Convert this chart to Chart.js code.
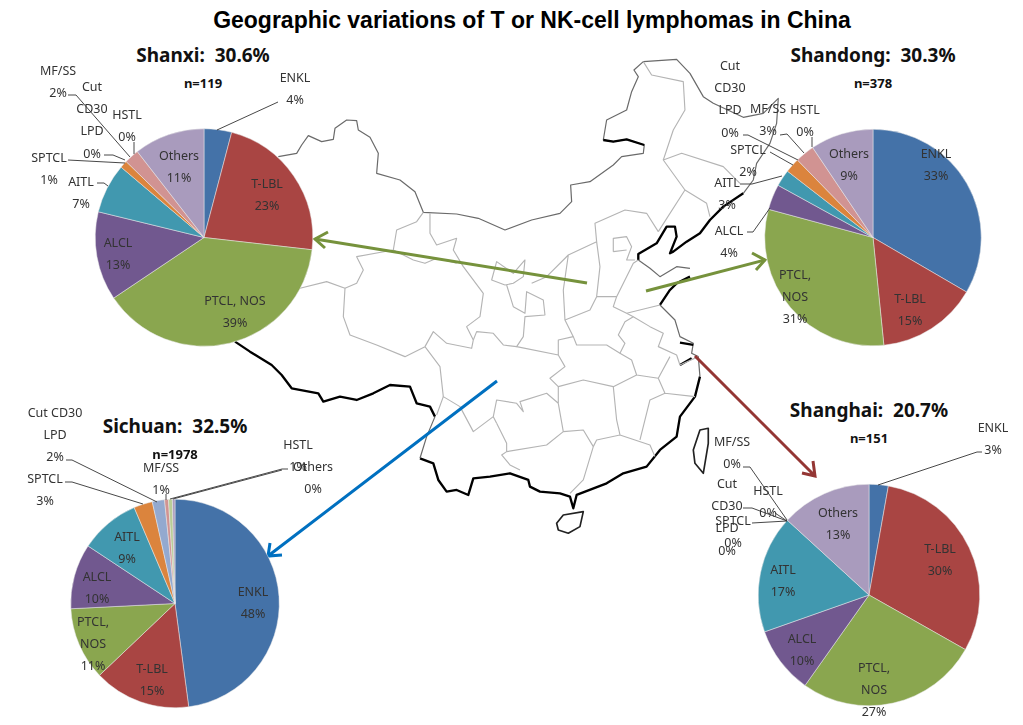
<!DOCTYPE html>
<html lang="en">

<head>
  <meta charset="UTF-8" />
  <title>Geographic variations of T or NK-cell lymphomas in China</title>
  <script src="https://cdn.jsdelivr.net/npm/chart.js"></script>
  <style>
    html, body { margin: 0; background: #fff; overflow: hidden; }
    #page { position: relative; width: 1023px; height: 725px; overflow: hidden; }
    #page svg, #page canvas { position: absolute; left: 0; top: 0; }
    .t { position: absolute; transform: translate(-50%, -50%); white-space: pre; color: #111; }
    #title { font: bold 23px "Liberation Sans", sans-serif; left: 532px; top: 20px; color: #000; }
    .head { font: bold 19px "Noto Sans", sans-serif; }
    .n { font: bold 13px "Noto Sans", sans-serif; }
    .prov { fill: none; stroke: #b4b4b4; stroke-width: 3.4; stroke-linejoin: round; }
    .north { fill: none; stroke: #6a6a6a; stroke-width: 3.6; stroke-linejoin: round; }
    .coast { fill: none; stroke: #000; stroke-width: 7; stroke-linejoin: round; }
    .isle { fill: none; stroke: #222; stroke-width: 5; stroke-linejoin: round; }
  </style>
</head>

<body>
  <div id="page">
    <!-- map is in the coordinates of the traced crop, hence the transform -->
    <svg width="1023" height="725">
      <g transform="translate(230,50) scale(0.3333)">
        <path class="north" d="M145,320 L200,310 215,285 235,257 275,275 310,268 315,235 350,210 380,212 385,240 420,262 445,310 440,370 510,390 555,425 580,487 680,492 745,505 825,540 905,510 990,490 1025,455 1022,405 1080,395 1150,345 1175,320 1240,310 1243,285 1190,268 1150,275 1120,270 1130,210 1190,180 1205,125 1225,80 1212,60 1240,35 1340,28 1380,70 1420,140 1450,160 1540,202 1600,190 1645,145 1640,220 1620,280 1580,340 1570,390 1540,430" />
        <path class="coast" d="M1120,270 L1150,275 1190,268 1243,285" />
        <path class="coast" d="M1540,430 L1480,470 1440,510 1410,550 1370,575 1330,605 1320,610 1340,560 1335,530 1310,530 1280,580 1225,612 1225,630" />
        <path class="north" d="M1225,630 L1260,655 1290,680 1340,650 1380,655" />
        <path class="coast" d="M1380,680 L1340,700 1320,720 1290,765" />
        <path class="north" d="M1290,765 L1335,810 1350,860 1390,880 1385,910 1405,920 1410,980" />
        <path class="coast" d="M1350,878 L1390,885 M1350,945 L1385,925" />
        <path class="coast" d="M1410,980 L1395,1040 1350,1100 1340,1160 1290,1200 1250,1250 1180,1270 1130,1300 1040,1335 1030,1375 1020,1340 990,1330 930,1325 900,1310 895,1290 840,1270 780,1280 730,1285 715,1335 680,1320 650,1325 625,1290 610,1240 570,1225" />
        <path class="coast" d="M15,875 L60,905 125,945 155,975 185,1015 265,1030 280,1055 330,1040 380,1050 430,1030 480,1005 540,1010 560,1060 600,1070 615,1100" />
        <path class="north" d="M615,1100 L590,1160 570,1225" />
        <path class="isle" d="M1390,1200 L1410,1140 1435,1135 1435,1180 1420,1270 1395,1240 Z" />
        <path class="isle" d="M980,1420 L1000,1395 1060,1385 1050,1430 1015,1450 985,1440 Z" />
        <path class="prov" d="M210,715 L290,695 345,715 340,800 360,855 440,885 525,920 585,890" />
        <path class="prov" d="M580,487 L560,515 500,540 490,600 380,620 400,660 380,700 345,715" />
        <path class="prov" d="M600,490 L600,550 620,585 680,565 670,600 700,650 760,730 750,800 710,830 730,870 725,895 650,880 610,845 585,890" />
        <path class="prov" d="M490,600 L550,630 585,640 620,625 680,640" />
        <path class="prov" d="M785,690 L800,635 850,670 885,630 880,680 850,700 825,705 Z" />
        <path class="prov" d="M830,705 L850,770 885,790 890,725 940,750 945,795 885,800 880,860 860,890 820,885 790,850 740,845 730,870" />
        <path class="prov" d="M905,700 L950,680 1015,615 1000,720 1005,810 1030,860 985,870 985,915 860,890" />
        <path class="prov" d="M1015,615 L1100,575 1110,650 1100,740 1080,780 1005,810" />
        <path class="prov" d="M1100,575 L1095,520 1185,480 1250,490 1285,545" />
        <path class="prov" d="M1100,740 L1160,740 1210,640 1225,630" />
        <path class="prov" d="M1150,605 L1150,565 1190,560 1205,590 1190,630 1215,630 M1150,605 L1190,600" />
        <path class="prov" d="M1160,740 L1150,770 1190,790 1290,765" />
        <path class="prov" d="M1030,860 L1040,885 1130,885 1170,910 1185,880 1165,855 1185,815 1210,800 1190,790" />
        <path class="prov" d="M1210,800 L1260,830 1300,850 1285,890 1340,915 1350,945 1405,920" />
        <path class="prov" d="M1170,910 L1205,930 1220,975 1285,985 1320,920" />
        <path class="prov" d="M985,915 L1005,950 960,985 985,1010 1060,990 1150,1010 1220,975" />
        <path class="prov" d="M985,1010 L985,1060 950,1030 870,1055 880,1085 860,1060 800,1050 790,1100 730,1145 690,1070 640,1040 620,1095" />
        <path class="prov" d="M585,890 L630,950 640,1040" />
        <path class="prov" d="M985,1060 L1000,1145 950,1185 830,1205 815,1215 840,1245 870,1260 M800,1120 L830,1180 830,1205" />
        <path class="prov" d="M790,1100 L800,1120 M1000,1145 L1060,1140 1090,1190 1060,1290 1020,1330" />
        <path class="prov" d="M1150,1010 L1160,1110 1170,1155 1100,1170 1090,1190 M1170,1155 L1260,1185 1275,1220" />
        <path class="prov" d="M1285,985 L1305,1030 1260,1050 1230,1170 M1305,1030 L1395,1040" />
        <path class="prov" d="M1285,545 L1365,420 1430,460 1440,500 M1365,420 L1300,330 1355,310 1480,350 1530,400" />
        <path class="prov" d="M1300,330 L1330,240 1365,180 1360,95 1265,75 1240,35" />
      </g>
      <g fill="none" stroke-width="3" stroke-linejoin="miter">
        <g stroke="#76923c">
          <path d="M587,283 L315,239" />
          <path d="M328,232 L315,239 325,248" />
          <path d="M646,291 L765,260" />
          <path d="M752,253 L765,260 756,270" />
        </g>
        <path stroke="#0070c0" d="M497,381 L268,556 M270,543 L268,556 282,555" />
        <path stroke="#943634" d="M695,356 L815,476 M802,473 L815,476 813,461" />
      </g>
    </svg>

    <div class="t" id="title">Geographic variations of T or NK-cell lymphomas in China</div>
    <div class="t head" style="left:203px;top:55px">Shanxi:  30.6%</div>
    <div class="t n" style="left:203px;top:83px">n=119</div>
    <div class="t head" style="left:873px;top:55px">Shandong:  30.3%</div>
    <div class="t n" style="left:873px;top:83px">n=378</div>
    <div class="t head" style="left:175px;top:426px">Sichuan:  32.5%</div>
    <div class="t head" style="left:869px;top:410px">Shanghai:  20.7%</div>
    <div class="t n" style="left:869px;top:438px">n=151</div>

    <canvas id="shanxiChart" width="1023" height="725"></canvas>
    <canvas id="shandongChart" width="1023" height="725"></canvas>
    <canvas id="sichuanChart" width="1023" height="725"></canvas>
    <canvas id="shanghaiChart" width="1023" height="725"></canvas>
    <div class="t n" style="left:175px;top:454px">n=1978</div>
  </div>

  <script>
    // percentages, printed labels are these rounded
    const shanxiValues = [4.1, 22.7, 38.8, 13.2, 7.4, 1.1, 0, 2.2, 0, 10.5];
    const shandongValues = [33.4, 15, 30.8, 3.8, 2.5, 2.2, 0, 2.9, 0, 9.4];
    const sichuanValues = [47.9, 15, 11.3, 10.1, 9.3, 2.9, 1.9, 0.6, 0.6, 0.4];
    const shanghaiValues = [2.8, 30.4, 26.6, 9.8, 17.2, 0, 0, 0, 0, 13.2];

    const shanxiNames = ['ENKL', 'T-LBL', 'PTCL, NOS', 'ALCL', 'AITL', 'SPTCL', 'Cut|CD30|LPD', 'MF/SS', 'HSTL', 'Others'];
    const shandongNames = ['ENKL', 'T-LBL', 'PTCL,|NOS', 'ALCL', 'AITL', 'SPTCL', 'Cut|CD30|LPD', 'MF/SS', 'HSTL', 'Others'];
    const sichuanNames = ['ENKL', 'T-LBL', 'PTCL,|NOS', 'ALCL', 'AITL', 'SPTCL', 'Cut CD30|LPD', 'MF/SS', 'HSTL', 'Others'];
    const shanghaiNames = ['ENKL', 'T-LBL', 'PTCL,|NOS', 'ALCL', 'AITL', 'SPTCL', 'Cut|CD30|LPD', 'MF/SS', 'HSTL', 'Others'];

    const sliceColors = ['#4472a8', '#a94543', '#8aa64f', '#71588f', '#4198af', '#db843d', '#93a9cf', '#d19392', '#b9cd96', '#a99bbd'];

    // page position of each label's first line, same order as the names
    const shanxiLabelAt = [[295, 78], [267, 184], [235, 301], [118, 243], [81, 182], [49, 158], [92, 87], [58, 71], [127, 115], [179, 156]];
    const shandongLabelAt = [[936, 154], [910, 299], [795, 275], [729, 231], [727, 183], [748, 150], [730, 66], [768, 109], [805, 110], [849, 154]];
    const sichuanLabelAt = [[253, 592], [152, 669], [93, 622], [97, 577], [127, 537], [45, 479], [55, 413], [161, 468], [298, 445], [313, 467]];
    const shanghaiLabelAt = [[993, 428], [940, 549], [874, 668], [802, 639], [783, 570], [733, 521], [727, 484], [732, 442], [768, 491], [838, 513]];

    const shanxiLeaders = [
      [[278, 102], [217, 130]], [[97, 183], [104, 183], [108, 186]], [[68, 160], [125, 163]],
      [[104, 155], [113, 155], [125, 160]], [[68, 95], [76, 95], [130, 157]], [[134, 142], [134, 154]]
    ];
    const shandongLeaders = [
      [[747, 232], [753, 232], [770, 208]], [[740, 184], [752, 184], [782, 176]], [[770, 152], [793, 165]],
      [[743, 135], [748, 135], [798, 160]], [[780, 135], [787, 134], [804, 153]], [[812, 137], [812, 147]]
    ];
    const sichuanLeaders = [
      [[65, 482], [72, 482], [143, 504]], [[66, 460], [72, 460], [157, 502]], [[166, 494], [166, 500]],
      [[288, 469], [282, 469], [170, 499]], [[282, 470], [173, 499]]
    ];
    const shanghaiLeaders = [
      [[982, 452], [977, 452], [878, 485]], [[743, 467], [750, 467], [787, 520]], [[743, 508], [752, 508], [787, 521]],
      [[752, 523], [787, 521]], [[775, 513], [787, 521]]
    ];

    const labelPlugin = {
      id: 'sliceLabels',
      afterDraw(chart, args, opts) {
        const ctx = chart.ctx;
        const values = chart.data.datasets[0].data;
        ctx.save();
        ctx.strokeStyle = '#333';
        ctx.lineWidth = 0.9;
        opts.leaders.forEach(pts => {
          ctx.beginPath();
          pts.forEach((p, i) => i ? ctx.lineTo(p[0], p[1]) : ctx.moveTo(p[0], p[1]));
          ctx.stroke();
        });
        ctx.font = '12.5px "Noto Sans", sans-serif';
        ctx.textAlign = 'center';
        ctx.textBaseline = 'middle';
        ctx.fillStyle = '#333';
        chart.data.labels.forEach((name, i) => {
          const lines = name.split('|').concat(Math.round(values[i]) + '%');
          lines.forEach((line, j) => {
            ctx.fillText(line, opts.at[i][0], opts.at[i][1] + j * 22.4);
          });
        });
        ctx.restore();
      }
    };

    function drawPie(id, names, values, cx, cy, r, at, leaders) {
      new Chart(document.getElementById(id), {
        type: 'pie',
        data: {
          labels: names,
          datasets: [{
            data: values,
            backgroundColor: sliceColors,
            borderColor: '#e8e8e8',
            borderWidth: 0.5
          }]
        },
        options: {
          responsive: false,
          animation: false,
          events: [],
          // padding leaves a square chart area round the pie's centre
          layout: { padding: { left: cx - r, top: cy - r, right: 1023 - cx - r, bottom: 725 - cy - r } },
          plugins: {
            legend: { display: false },
            tooltip: { enabled: false },
            sliceLabels: { at: at, leaders: leaders }
          }
        },
        plugins: [labelPlugin]
      });
    }

    drawPie('shanxiChart', shanxiNames, shanxiValues, 204, 237.5, 109, shanxiLabelAt, shanxiLeaders);
    drawPie('shandongChart', shandongNames, shandongValues, 873, 237.5, 108.5, shandongLabelAt, shandongLeaders);
    drawPie('sichuanChart', sichuanNames, sichuanValues, 175, 603.5, 104.5, sichuanLabelAt, sichuanLeaders);
    drawPie('shanghaiChart', shanghaiNames, shanghaiValues, 869, 595, 111, shanghaiLabelAt, shanghaiLeaders);
  </script>
</body>

</html>
